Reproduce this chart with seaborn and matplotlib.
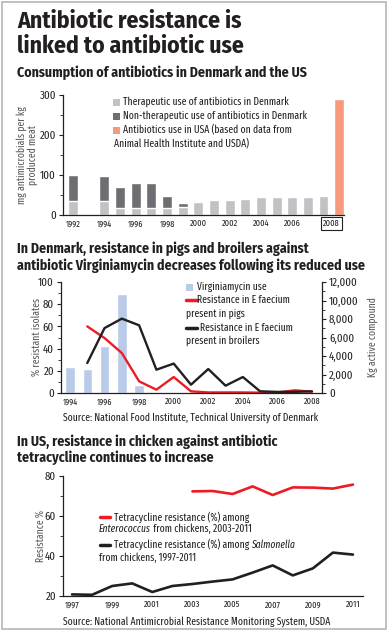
import pandas as pd
import seaborn as sns
import matplotlib.pyplot as plt
from matplotlib import font_manager
from matplotlib.patches import Rectangle
from matplotlib.lines import Line2D
from matplotlib.ticker import FuncFormatter, MultipleLocator

# --- chart 1: consumption of antibiotics (mg per kg produced meat)
dk_years = ['1992', '1994', '1995', '1996', '1997', '1998', '1999', '2000',
            '2001', '2002', '2003', '2004', '2005', '2006', '2007', '2008']
dk_total = [100, 98, 71, 80, 80, 48, 31, 33, 38, 38, 41, 46, 46, 46, 46, 48]
dk_therapeutic = [35, 35, 18, 18, 18, 18, 20, 33, 38, 38, 41, 46, 46, 46, 46, 48]
usa_value = [290]
slots = [str(y) for y in range(1992, 2009)] + ['USA']

# --- chart 2: virginiamycin in Denmark
vir_years = [1994, 1995, 1996, 1997, 1998]
vir_kg = [2820, 2640, 5040, 10680, 900]
res_years = list(range(1995, 2009))
pigs = [60, 49.5, 36, 10.5, 3, 14.4, 1.5, 0.5, 0.5, 0.5, 0.3, 0.5, 2.4, 1.2]
broilers = [27, 58.5, 67, 61, 21, 26.5, 7.5, 21.6, 6.6, 14.4, 1.5, 1, 1, 1.5]

# --- chart 3: tetracycline resistance in US chicken
ent_years = list(range(2003, 2012))
ent_res = [72.3, 72.5, 71, 74.8, 70.5, 74.3, 74.2, 73.7, 75.7]
sal_years = list(range(1997, 2012))
sal_res = [20.8, 20.6, 25, 26.3, 22, 25, 26, 27.2, 28.3, 31.7, 35.3, 30.3, 33.8, 41.7, 40.7]

installed = {f.name for f in font_manager.fontManager.ttflist}


def pick(prefs):
    for p in prefs:
        if p in installed:
            return p
    return 'DejaVu Sans'


HEAD = pick(['Fira Sans Condensed', 'Roboto Condensed', 'PT Sans Narrow',
             'Archivo Narrow', 'Open Sans Condensed', 'Liberation Sans Narrow'])
BODY = pick(['Fira Sans Extra Condensed', 'PT Sans Narrow', 'Roboto Condensed',
             'Fira Sans Condensed', 'Archivo Narrow', 'Liberation Sans Narrow'])

sns.set_theme(style='white')
plt.rcParams['font.family'] = [BODY, 'DejaVu Sans']
plt.rcParams['text.color'] = '#231f20'

INK = '#231f20'
LIGHT = '#c1c2c6'
DARK = '#6d6e71'
SALMON = '#f79a7b'
BLUE = '#b9cbe9'
RED = '#ed1c24'
GREY_TXT = '#58595b'

W, H = 388, 635
fig = plt.figure(figsize=(W / 100, H / 100), dpi=100)


def fx(px):
    return px / W


def fy(py):
    return 1 - py / H


def style_axis(ax, yfont=8.5):
    for s in ['top', 'right']:
        ax.spines[s].set_visible(False)
    for s in ['left', 'bottom']:
        ax.spines[s].set_color(INK)
        ax.spines[s].set_linewidth(0.9)
    ax.tick_params(axis='y', which='major', direction='out', length=3, width=0.8,
                   color=INK, labelsize=yfont, pad=2, left=True)
    ax.tick_params(axis='y', which='minor', direction='out', length=2, width=0.6,
                   color=INK, left=True)
    ax.tick_params(axis='x', length=0, labelsize=6.5, pad=3)
    ax.set_xlabel('')
    ax.set_ylabel('')


def head(x, y, s, size):
    fig.text(fx(x), fy(y), s, fontsize=size, fontweight='bold', va='baseline',
             family=[HEAD, 'DejaVu Sans'])


# frame round the whole graphic
fig.add_artist(Rectangle((fx(2), fy(629)), fx(384), fy(2) - fy(629),
                         transform=fig.transFigure, fill=False, ec='#b5b5b5', lw=1.2))

# titles
head(17, 28, 'Antibiotic resistance is', 17)
head(17, 53, 'linked to antibiotic use', 17)
head(17, 77, 'Consumption of antibiotics in Denmark and the US', 10)

# ---------------- chart 1
ax1 = fig.add_axes([fx(63), fy(215), fx(281), (215 - 95) / H])
df1 = pd.DataFrame({'year': dk_years, 'total': dk_total, 'thera': dk_therapeutic})
sns.barplot(data=df1, x='year', y='total', order=slots, color=DARK, saturation=1,
            width=0.62, ax=ax1)
sns.barplot(data=df1, x='year', y='thera', order=slots, color=LIGHT, saturation=1,
            width=0.62, ax=ax1)
df_usa = pd.DataFrame({'year': ['USA'], 'value': usa_value})
sns.barplot(data=df_usa, x='year', y='value', order=slots, color=SALMON, saturation=1,
            width=0.62, ax=ax1)
ax1.set_xlim(-0.64, 17.3)
ax1.set_ylim(0, 300)
ax1.set_yticks([0, 100, 200, 300])
ax1.yaxis.set_minor_locator(MultipleLocator(50))
style_axis(ax1)
tick_pos = list(range(0, 16, 2)) + [16.5]
tick_lab = [str(y) for y in range(1992, 2008, 2)] + ['2008']
ax1.set_xticks(tick_pos)
ax1.set_xticklabels(tick_lab)
last = ax1.get_xticklabels()[-1]
last.set_bbox(dict(boxstyle='square,pad=0.25', fc='white', ec=INK, lw=0.8))
fig.text(fx(27), fy(155), 'mg antimicrobials per kg\nproduced meat', rotation=90,
         ha='center', va='center', fontsize=7.5, color=GREY_TXT, linespacing=1.1)

leg1 = [(LIGHT, 'Therapeutic use of antibiotics in Denmark', 102),
        (DARK, 'Non-therapeutic use of antibiotics in Denmark', 116),
        (SALMON, 'Antibiotics use in USA (based on data from', 130)]
for col, lab, yy in leg1:
    fig.add_artist(Rectangle((fx(113), fy(yy + 3.5)), fx(7), 7 / H,
                             transform=fig.transFigure, fc=col, ec='none'))
    fig.text(fx(123), fy(yy), lab, fontsize=7.5, va='center')
fig.text(fx(114), fy(144), 'Animal Health Institute and USDA)', fontsize=7.5, va='center')

# ---------------- chart 2
head(17, 253, 'In Denmark, resistance in pigs and broilers against', 10)
head(17, 270, 'antibiotic Virginiamycin decreases following its reduced use', 10)

ax2 = fig.add_axes([fx(61), fy(393), fx(261), (393 - 282) / H])
ax2r = ax2.twinx()
df_vir = pd.DataFrame({'year': vir_years, 'kg': vir_kg})
sns.barplot(data=df_vir, x='year', y='kg', native_scale=True, color=BLUE, saturation=1,
            width=0.54, ax=ax2r)
df_pigs = pd.DataFrame({'year': res_years, 'pct': pigs})
df_broil = pd.DataFrame({'year': res_years, 'pct': broilers})
sns.lineplot(data=df_pigs, x='year', y='pct', color=RED, lw=1.7, ax=ax2)
sns.lineplot(data=df_broil, x='year', y='pct', color=INK, lw=1.7, ax=ax2)
ax2.set_zorder(ax2r.get_zorder() + 1)
ax2.patch.set_visible(False)
ax2.set_xlim(1993.48, 2008.58)
ax2.set_ylim(0, 100)
ax2.set_yticks(range(0, 101, 20))
ax2.yaxis.set_minor_locator(MultipleLocator(10))
ax2.set_xticks(range(1994, 2009, 2))
style_axis(ax2)
ax2r.set_ylim(0, 12000)
ax2r.set_yticks(range(0, 12001, 2000))
ax2r.yaxis.set_minor_locator(MultipleLocator(1000))
ax2r.yaxis.set_major_formatter(FuncFormatter(lambda v, p: f'{int(v):,}'))
for s in ['top', 'left', 'bottom']:
    ax2r.spines[s].set_visible(False)
ax2r.spines['right'].set_color(INK)
ax2r.spines['right'].set_linewidth(0.9)
ax2r.tick_params(axis='y', which='major', direction='out', length=3, width=0.8,
                 color=INK, labelsize=8.5, pad=2, right=True)
ax2r.tick_params(axis='y', which='minor', direction='out', length=2, width=0.6,
                 color=INK, right=True)
ax2r.set_xlabel('')
ax2r.set_ylabel('')
fig.text(fx(37), fy(337), '% resistant isolates', rotation=90, ha='center', va='center',
         fontsize=7.5, color=GREY_TXT)
fig.text(fx(373), fy(337), 'Kg active compound', rotation=90, ha='center', va='center',
         fontsize=7.5, color=GREY_TXT)

fig.add_artist(Rectangle((fx(186), fy(290.5)), fx(7), 7 / H,
                         transform=fig.transFigure, fc=BLUE, ec='none'))
fig.text(fx(197), fy(287), 'Virginiamycin use', fontsize=7.5, va='center')
fig.add_artist(Line2D([fx(186), fx(197)], [fy(300), fy(300)], transform=fig.transFigure,
                      color=RED, lw=2.5))
fig.text(fx(197), fy(300), 'Resistance in E faecium', fontsize=7.5, va='center')
fig.text(fx(186), fy(314), 'present in pigs', fontsize=7.5, va='center')
fig.add_artist(Line2D([fx(186), fx(197)], [fy(328), fy(328)], transform=fig.transFigure,
                      color=INK, lw=2.5))
fig.text(fx(200), fy(328), 'Resistance in E faecium', fontsize=7.5, va='center')
fig.text(fx(186), fy(341), 'present in broilers', fontsize=7.5, va='center')

fig.text(fx(63), fy(418), 'Source: National Food Institute, Technical University of Denmark',
         fontsize=7.5, va='center')

# ---------------- chart 3
head(17, 446, 'In US, resistance in chicken against antibiotic', 10)
head(17, 462, 'tetracycline continues to increase', 10)

ax3 = fig.add_axes([fx(63), fy(596), fx(300), (596 - 476) / H])
df_ent = pd.DataFrame({'year': ent_years, 'pct': ent_res})
df_sal = pd.DataFrame({'year': sal_years, 'pct': sal_res})
sns.lineplot(data=df_ent, x='year', y='pct', color=RED, lw=1.9, ax=ax3)
sns.lineplot(data=df_sal, x='year', y='pct', color=INK, lw=1.9, ax=ax3)
ax3.set_xlim(1996.55, 2011.5)
ax3.set_ylim(20, 80)
ax3.set_yticks([20, 40, 60, 80])
ax3.yaxis.set_minor_locator(MultipleLocator(10))
ax3.set_xticks(range(1997, 2012, 2))
style_axis(ax3)
fig.text(fx(41), fy(536), 'Resistance %', rotation=90, ha='center', va='center',
         fontsize=7.5, color=GREY_TXT)

fig.add_artist(Line2D([fx(100), fx(110)], [fy(517), fy(517)], transform=fig.transFigure,
                      color=RED, lw=2.5))
fig.text(fx(114), fy(517), 'Tetracycline resistance (%) among', fontsize=7.5, va='center')
t1 = fig.text(fx(99), fy(534), 'Enterococcus', fontsize=7.5, style='italic', va='bottom')
ax3.annotate(' from chickens, 2003-2011', xy=(1, 0), xycoords=t1, va='bottom',
             ha='left', fontsize=7.5, annotation_clip=False)
fig.add_artist(Line2D([fx(100), fx(110)], [fy(545), fy(545)], transform=fig.transFigure,
                      color=INK, lw=2.5))
t2 = fig.text(fx(114), fy(550), 'Tetracycline resistance (%) among ', fontsize=7.5,
              va='bottom')
ax3.annotate('Salmonella', xy=(1, 0), xycoords=t2, va='bottom', ha='left', fontsize=7.5,
             style='italic', annotation_clip=False)
fig.text(fx(99), fy(558), 'from chickens, 1997-2011', fontsize=7.5, va='center')

fig.text(fx(63), fy(622), 'Source: National Antimicrobial Resistance Monitoring System, USDA',
         fontsize=7.5, va='center')

fig.savefig('out.png', dpi=100)
